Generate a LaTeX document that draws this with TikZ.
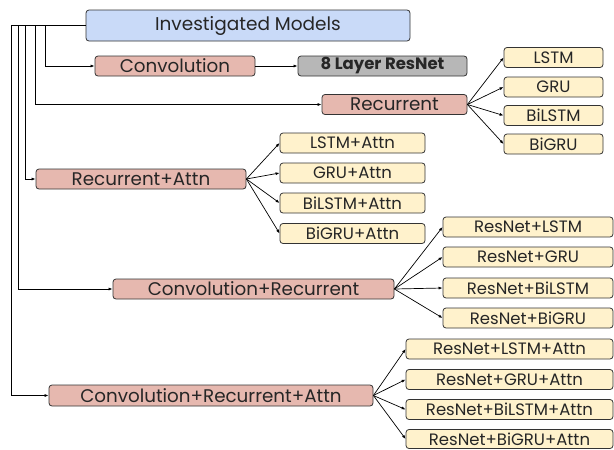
\documentclass[tikz,border=0pt]{standalone}
\usepackage{fontspec}
\setmainfont{Poppins}
\usetikzlibrary{arrows.meta}
\definecolor{rootfill}{HTML}{C9DAF8}
\definecolor{groupfill}{HTML}{E6B8AF}
\definecolor{leaffill}{HTML}{FFF2CC}
\definecolor{basefill}{HTML}{B7B7B7}
\definecolor{edgegray}{HTML}{333333}
\tikzset{
  box/.style={draw=edgegray, line width=0.8pt, rounded corners=3pt, inner sep=0pt,
              text=black!85, align=center},
  rootbox/.style={box, fill=rootfill, font=\fontsize{18.5}{19}\selectfont},
  groupbox/.style={box, fill=groupfill, minimum height=20pt, font=\fontsize{18.3}{19}\selectfont},
  basebox/.style={box, fill=basefill, minimum height=20pt, font=\fontsize{16.5}{17}\bfseries\selectfont},
  leafbox/.style={box, fill=leaffill, minimum height=20pt, font=\fontsize{16.5}{17}\selectfont},
  arr/.style={line width=0.7pt, -{Latex[length=4pt,width=3pt]}},
}
\begin{document}
\begin{tikzpicture}[x=1pt,y=-1pt]
\useasboundingbox (0,0) rectangle (614,450);

% root
\node[rootbox, minimum width=324pt, minimum height=31pt] (top) at (248,25.5) {Investigated Models};

% first level
\node[groupbox, minimum width=160pt] (conv) at (175,66) {Convolution};
\node[basebox, minimum width=169pt] (res8) at (382.5,66) {8 Layer ResNet};
\node[groupbox, minimum width=145pt] (rec) at (394.5,104.5) {Recurrent};
\node[groupbox, minimum width=210pt] (recatt) at (141,179) {Recurrent+Attn};
\node[groupbox, minimum width=281pt] (convrec) at (253.5,289) {Convolution+Recurrent};
\node[groupbox, minimum width=324pt, minimum height=21pt] (convrecatt) at (211,395.5) {Convolution+Recurrent+Attn};

% recurrent leaves
\node[leafbox, minimum width=99pt] (r1) at (553.5,57.5) {LSTM};
\node[leafbox, minimum width=99pt] (r2) at (553.5,87) {GRU};
\node[leafbox, minimum width=99pt] (r3) at (553.5,115.5) {BiLSTM};
\node[leafbox, minimum width=99pt] (r4) at (553.5,144) {BiGRU};

% recurrent + attention leaves
\node[leafbox, minimum width=145pt] (a1) at (352.5,143) {LSTM+Attn};
\node[leafbox, minimum width=145pt] (a2) at (352.5,173) {GRU+Attn};
\node[leafbox, minimum width=145pt] (a3) at (352.5,203) {BiLSTM+Attn};
\node[leafbox, minimum width=145pt] (a4) at (352.5,233.5) {BiGRU+Attn};

% convolution + recurrent leaves
\node[leafbox, minimum width=170pt] (c1) at (528,227) {ResNet+LSTM};
\node[leafbox, minimum width=170pt] (c2) at (528,257) {ResNet+GRU};
\node[leafbox, minimum width=170pt] (c3) at (528,288) {ResNet+BiLSTM};
\node[leafbox, minimum width=170pt] (c4) at (528,318) {ResNet+BiGRU};

% convolution + recurrent + attention leaves
\node[leafbox, minimum width=207pt] (d1) at (509.5,349) {ResNet+LSTM+Attn};
\node[leafbox, minimum width=207pt] (d2) at (509.5,379.5) {ResNet+GRU+Attn};
\node[leafbox, minimum width=207pt] (d3) at (509.5,409.5) {ResNet+BiLSTM+Attn};
\node[leafbox, minimum width=207pt, minimum height=19pt] (d4) at (509.5,439) {ResNet+BiGRU+Attn};

% elbow columns of the root connectors
\coordinate (k1) at (45,0);
\coordinate (k2) at (35,0);
\coordinate (k3) at (25.7,0);
\coordinate (k4) at (18.3,0);
\coordinate (k5) at (11.7,0);

\draw[arr] (top.west) -- (top.west -| k1) |- (conv.west);
\draw[arr] (top.west) -- (top.west -| k2) |- (rec.west);
\draw[arr] (top.west) -- (top.west -| k3) |- (recatt.west);
\draw[arr] (top.west) -- (top.west -| k4) |- (convrec.west);
\draw[arr] (top.west) -- (top.west -| k5) |- (convrecatt.west);

\draw[arr] (conv.east) -- (res8.west);

\foreach \p/\l in {rec/r, recatt/a, convrec/c, convrecatt/d}{
  \foreach \i in {1,...,4}{
    \draw[arr] (\p.east) -- (\l\i.west);
  }
}
\end{tikzpicture}
\end{document}
